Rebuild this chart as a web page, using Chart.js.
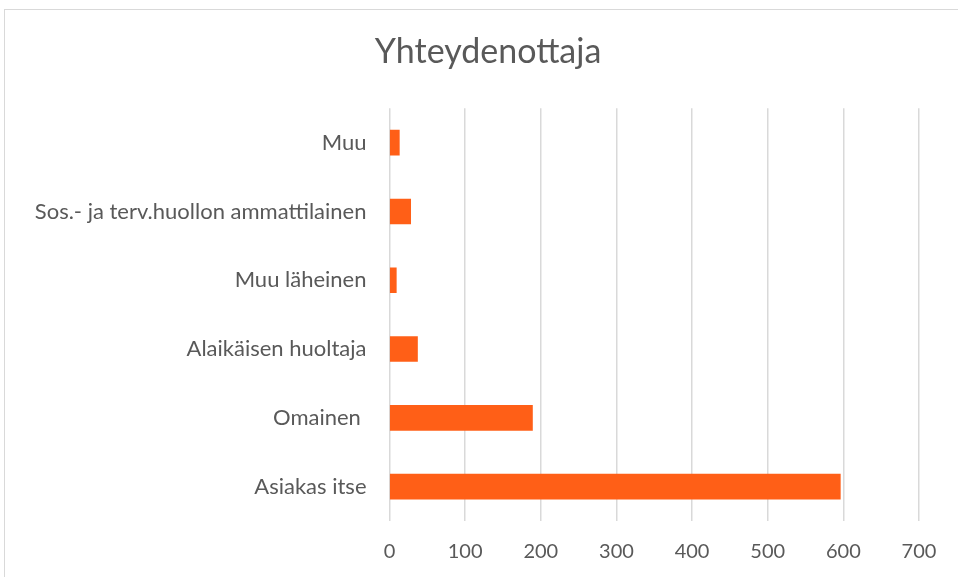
<!DOCTYPE html>
<html>
<head>
<meta charset="utf-8">
<script src="https://cdn.jsdelivr.net/npm/chart.js@4/dist/chart.umd.min.js"></script>
<style>
  html, body { margin: 0; padding: 0; background: #ffffff; overflow: hidden; width: 958px; height: 577px; }
  #frame { position: absolute; left: 4px; top: 9px; width: 980px; height: 600px;
           border-top: 1.5px solid #d9d9d9; border-left: 1.5px solid #d9d9d9; background: #fff; }
  #c { position: absolute; left: 0; top: 0; }
</style>
</head>
<body>
<div id="frame"><canvas id="c" width="966" height="570"></canvas></div>
<script>
const chartTitle = "Yhteydenottaja";
const categories = ["Muu", "Sos.- ja terv.huollon ammattilainen", "Muu läheinen", "Alaikäisen huoltaja", "Omainen ", "Asiakas itse"];
const values = [13, 28, 9, 37, 189, 596];
const axisMin = 0;
const axisMax = 700;
const axisStep = 100;

const textColor = "#595959";
const gridColor = "#d9d9d9";
const barColor = "#FF5F17";

// centre the title over the whole frame rather than over the padded layout box
const titleShift = {
  id: "titleShift",
  afterLayout(chart) { if (chart.titleBlock) { chart.titleBlock.right += 32; } }
};

new Chart(document.getElementById("c"), {
  type: "bar",
  data: {
    labels: categories,
    datasets: [{
      data: values,
      backgroundColor: barColor,
      borderWidth: 0,
      barThickness: 25
    }]
  },
  options: {
    indexAxis: "y",
    responsive: false,
    animation: false,
    layout: { padding: { left: 20, right: 52, top: 0, bottom: 16 } },
    plugins: {
      legend: { display: false },
      tooltip: { enabled: false },
      title: {
        display: true,
        text: chartTitle,
        color: textColor,
        font: { family: "Lato", size: 34, weight: "normal" },
        padding: { top: 22, bottom: 35.5 }
      }
    },
    scales: {
      x: {
        min: axisMin,
        max: axisMax,
        ticks: { stepSize: axisStep, color: textColor, padding: 19,
                 font: { family: "Lato", size: 20 } },
        grid: { color: gridColor, lineWidth: 1.5, drawTicks: false },
        border: { display: false },
        afterFit: (s) => { s.height = 43; }
      },
      y: {
        ticks: { color: textColor, padding: 23, font: { family: "Lato", size: 22 } },
        grid: { display: false, drawTicks: false },
        border: { display: false },
        afterFit: (s) => { s.width = 364.5; }
      }
    }
  },
  plugins: [titleShift]
});
</script>
</body>
</html>
